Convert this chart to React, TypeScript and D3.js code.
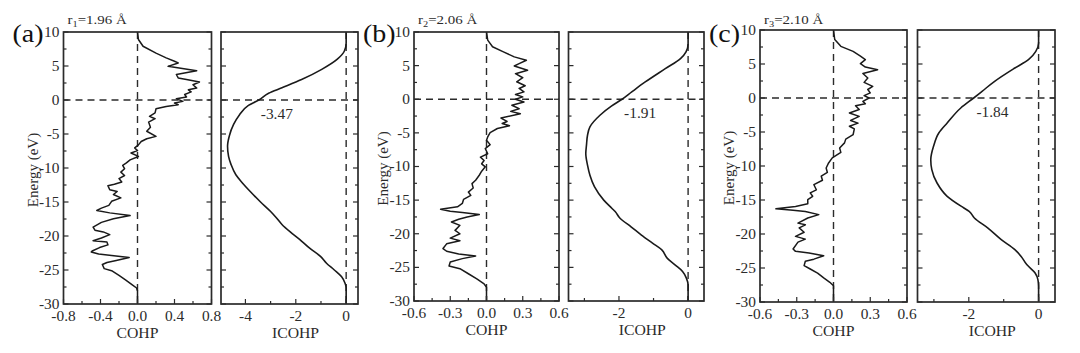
import React from 'react';
import * as d3 from 'd3';

// energy axis (eV), shared by every panel
const energyTicks = [10, 5, 0, -5, -10, -15, -20, -25, -30];
const energyMinor = [7.5, 2.5, -2.5, -7.5, -12.5, -17.5, -22.5, -27.5];

const panelLabels = ['(a)', '(b)', '(c)'];
const bondIndex = ['1', '2', '3'];
const bondLengths = ['1.96', '2.06', '2.10'];
const icohpAtFermi = [-3.47, -1.91, -1.84];

const cohpTicksA = [-0.8, -0.4, 0, 0.4, 0.8];
const cohpMinorA = [-0.6, -0.2, 0.2, 0.6];
const cohpTicksBC = [-0.6, -0.3, 0, 0.3, 0.6];
const cohpMinorBC = [-0.45, -0.15, 0.15, 0.45];
const icohpTicksA = [-4, -2, 0];
const icohpMinorA = [-3, -1];
const icohpTicksBC = [-2, 0];
const icohpMinorBC = [-3, -1];

// [energy, COHP]
const cohpA = [
  [10, 0], [8.9, 0.01], [7.9, 0.06], [6.9, 0.2], [6.2, 0.31], [5.7, 0.4], [5.45, 0.44], [4.95, 0.33],
  [4.3, 0.64], [3.75, 0.42], [3.25, 0.44], [3.0, 0.53], [2.65, 0.67], [2.25, 0.6], [1.75, 0.64],
  [1.5, 0.55], [1.2, 0.58], [0.8, 0.51], [0.45, 0.53], [0.2, 0.42], [-0.2, 0.49], [-0.45, 0.4],
  [-0.7, 0.44], [-0.95, 0.31], [-1.3, 0.2], [-1.9, 0.19], [-2.4, 0.13], [-2.75, 0.19], [-3.25, 0.12],
  [-4.0, 0.14], [-4.6, 0.1], [-5.35, 0.2], [-5.7, 0.1], [-6.1, 0.04], [-6.6, 0.01], [-7.05, -0.03],
  [-7.45, 0], [-7.8, -0.07], [-8.3, 0.01], [-8.8, -0.08], [-9.25, -0.12], [-9.6, -0.16], [-10.1, -0.14],
  [-10.6, -0.18], [-11.1, -0.14], [-11.55, -0.2], [-12.05, -0.17], [-12.4, -0.25], [-12.6, -0.32],
  [-13.2, -0.3], [-13.45, -0.22], [-13.9, -0.26], [-14.4, -0.18], [-14.9, -0.28], [-15.5, -0.31],
  [-15.9, -0.39], [-16.25, -0.44], [-16.6, -0.3], [-17.0, -0.08], [-17.45, -0.26], [-18.0, -0.39],
  [-18.7, -0.48], [-19.15, -0.46], [-19.4, -0.37], [-19.8, -0.3], [-20.3, -0.39], [-20.7, -0.48],
  [-20.9, -0.33], [-21.3, -0.32], [-21.7, -0.41], [-22.2, -0.49], [-22.35, -0.5], [-22.65, -0.42],
  [-22.85, -0.28], [-23.15, -0.09], [-23.6, -0.23], [-23.9, -0.33], [-24.2, -0.38], [-24.8, -0.36],
  [-25.1, -0.28], [-25.8, -0.2], [-26.45, -0.13], [-27.15, -0.06], [-27.65, -0.01], [-28.1, 0], [-30, 0],
];

const cohpB = [
  [10, 0], [8.8, 0.01], [7.8, 0.05], [7.05, 0.14], [6.3, 0.23], [5.8, 0.33], [5.3, 0.27], [4.95, 0.23],
  [4.3, 0.34], [3.8, 0.24], [3.2, 0.3], [2.6, 0.25], [2.0, 0.32], [1.6, 0.27], [1.1, 0.31], [0.7, 0.24],
  [0.35, 0.3], [0, 0.24], [-0.4, 0.31], [-0.9, 0.21], [-1.4, 0.27], [-1.8, 0.2], [-2.15, 0.28],
  [-2.8, 0.12], [-3.3, 0.17], [-3.6, 0.13], [-3.95, 0.19], [-4.35, 0.09], [-4.95, 0.03], [-5.6, 0.01],
  [-6.1, 0], [-6.75, 0.03], [-7.35, -0.01], [-8.1, 0.01], [-8.6, -0.05], [-9.1, -0.02], [-9.6, -0.04],
  [-10.05, -0.01], [-10.7, -0.04], [-11.3, -0.06], [-12.05, -0.09], [-12.55, -0.12], [-13.2, -0.11],
  [-13.8, -0.15], [-14.3, -0.13], [-14.9, -0.19], [-15.5, -0.2], [-16.0, -0.24], [-16.35, -0.38],
  [-16.65, -0.3], [-16.85, -0.2], [-17.15, -0.06], [-17.5, -0.16], [-17.85, -0.23], [-18.25, -0.29],
  [-18.75, -0.22], [-19.5, -0.26], [-20.0, -0.22], [-20.65, -0.3], [-21.05, -0.22], [-21.5, -0.33],
  [-22.2, -0.36], [-22.6, -0.33], [-23.0, -0.23], [-23.3, -0.09], [-23.7, -0.2], [-24.2, -0.3],
  [-24.8, -0.31], [-25.2, -0.22], [-25.95, -0.15], [-26.7, -0.08], [-27.45, -0.02], [-27.95, 0], [-30, 0],
];

const cohpC = [
  [10, 0], [8.6, 0.01], [7.6, 0.06], [6.85, 0.16], [6.15, 0.22], [5.65, 0.26], [5.05, 0.22], [4.55, 0.26],
  [4.15, 0.36], [3.6, 0.24], [2.95, 0.28], [2.3, 0.25], [1.7, 0.32], [1.25, 0.28], [0.75, 0.3],
  [0.35, 0.25], [0, 0.29], [-0.5, 0.24], [-0.85, 0.26], [-1.15, 0.18], [-1.7, 0.21], [-2.2, 0.13],
  [-2.7, 0.21], [-3.3, 0.14], [-3.7, 0.2], [-4.15, 0.13], [-4.55, 0.17], [-5.4, 0.16], [-6.05, 0.1],
  [-6.6, 0.09], [-7.35, 0.05], [-8.0, 0.06], [-8.8, -0.01], [-9.55, -0.04], [-10.3, -0.06],
  [-10.95, -0.05], [-11.5, -0.1], [-12.1, -0.09], [-12.75, -0.16], [-13.5, -0.14], [-13.95, -0.19],
  [-14.45, -0.17], [-14.95, -0.21], [-15.55, -0.21], [-15.95, -0.31], [-16.3, -0.47], [-16.5, -0.33],
  [-16.7, -0.23], [-17.15, -0.12], [-17.65, -0.21], [-18.4, -0.29], [-18.65, -0.23], [-19.1, -0.28],
  [-19.75, -0.24], [-20.35, -0.31], [-20.75, -0.23], [-21.2, -0.29], [-22.2, -0.33], [-22.55, -0.31],
  [-22.8, -0.2], [-23.2, -0.08], [-23.7, -0.16], [-24.0, -0.23], [-24.65, -0.24], [-25.15, -0.19],
  [-25.75, -0.13], [-26.45, -0.08], [-27.1, -0.03], [-27.6, 0], [-30, 0],
];

// [energy, ICOHP]
const icohpA = [
  [10, 0], [8.4, 0], [7.2, -0.07], [6.0, -0.35], [4.5, -0.97], [3.0, -1.77], [1.8, -2.55], [1.0, -3.08],
  [0, -3.47], [-0.8, -3.88], [-2.2, -4.24], [-3.6, -4.47], [-5.3, -4.64], [-6.8, -4.71], [-8.3, -4.67],
  [-9.5, -4.57], [-11.0, -4.38], [-12.2, -4.12], [-13.5, -3.8], [-15.0, -3.4], [-16.4, -3.0],
  [-17.2, -2.8], [-18.3, -2.55], [-19.4, -2.22], [-20.5, -1.85], [-21.8, -1.45], [-23.0, -1.02],
  [-24.0, -0.78], [-25.0, -0.47], [-26.0, -0.18], [-27.0, -0.04], [-27.6, 0], [-30, 0],
];

const icohpB = [
  [10, 0], [8.27, 0], [7.03, -0.06], [6.04, -0.22], [4.55, -0.66], [2.57, -1.24], [1.09, -1.63],
  [0, -1.91], [-0.99, -2.21], [-2.38, -2.55], [-4.11, -2.84], [-5.35, -2.91], [-6.83, -2.94],
  [-8.07, -2.96], [-9.8, -2.91], [-11.3, -2.84], [-13.0, -2.71], [-15.0, -2.44], [-16.24, -2.2],
  [-16.7, -2.11], [-17.7, -1.97], [-18.96, -1.65], [-20.2, -1.35], [-21.4, -1.03], [-22.4, -0.76],
  [-23.66, -0.6], [-24.65, -0.37], [-25.6, -0.16], [-26.6, -0.05], [-27.6, 0], [-30, 0],
];

const icohpC = [
  [10, 0], [8.1, 0], [6.86, -0.08], [5.64, -0.29], [4.41, -0.68], [2.45, -1.26], [0.98, -1.62],
  [0, -1.86], [-1.47, -2.23], [-3.68, -2.62], [-5.15, -2.86], [-7.1, -3.01], [-9.07, -3.09],
  [-10.54, -3.06], [-12.5, -2.91], [-14.46, -2.62], [-16.18, -2.14], [-16.67, -1.99], [-17.65, -1.84],
  [-19.1, -1.46], [-20.83, -1.07], [-22.3, -0.68], [-23.3, -0.5], [-24.5, -0.34], [-25.74, -0.1],
  [-26.7, -0.02], [-27.7, 0], [-30, 0],
];

const SERIF = "'Liberation Serif', 'Times New Roman', serif";
const INK = '#2b2b2b';

const panels = [
  {
    cohp: cohpA, icohp: icohpA, cohpDomain: [-0.8, 0.8], cohpTicks: cohpTicksA, cohpMinor: cohpMinorA,
    icohpDomain: [-4.97, 0.47], icohpTicks: icohpTicksA, icohpMinor: icohpMinorA,
    box: { c0: 63.5, c1: 211.5, i0: 221, i1: 358, y0: 32, y1: 304 },
  },
  {
    cohp: cohpB, icohp: icohpB, cohpDomain: [-0.6, 0.6], cohpTicks: cohpTicksBC, cohpMinor: cohpMinorBC,
    icohpDomain: [-3.46, 0.46], icohpTicks: icohpTicksBC, icohpMinor: icohpMinorBC,
    box: { c0: 414, c1: 559, i0: 568.5, i1: 704, y0: 32, y1: 301 },
  },
  {
    cohp: cohpC, icohp: icohpC, cohpDomain: [-0.6, 0.6], cohpTicks: cohpTicksBC, cohpMinor: cohpMinorBC,
    icohpDomain: [-3.47, 0.47], icohpTicks: icohpTicksBC, icohpMinor: icohpMinorBC,
    box: { c0: 760, c1: 907, i0: 917.5, i1: 1055, y0: 30, y1: 302 },
  },
];

const fmtCohp = (v) => (v === 0 ? '0.0' : d3.format('.1f')(v).replace('−', '-'));
const fmtInt = (v) => String(v);

// text with a slight horizontal stretch, the source figure is a little wide
function T({ x, y, size, sx = 1.1, anchor = 'start', dy, rotate = 0, fill = INK, children }) {
  return (
    <text
      transform={`translate(${x},${y}) rotate(${rotate}) scale(${sx},1)`}
      dy={dy} textAnchor={anchor} fontSize={size} fontFamily={SERIF} fill={fill}
    >
      {children}
    </text>
  );
}

function Frame({ x0, x1, y, xScale, ticks, minor, fmt, title, titleShift, showY }) {
  const top = y.range()[1];
  const bottom = y.range()[0];
  return (
    <g>
      {energyTicks.map((t) => (
        <g key={'yt' + t}>
          <line x1={x0} x2={x0 + 5} y1={y(t)} y2={y(t)} stroke={INK} strokeWidth={1.2} />
          <line x1={x1} x2={x1 - 5} y1={y(t)} y2={y(t)} stroke={INK} strokeWidth={1.2} />
          {showY && <T x={x0 - 4} y={y(t)} dy="0.35em" anchor="end" size={14}>{t}</T>}
        </g>
      ))}
      {energyMinor.map((t) => (
        <g key={'ym' + t}>
          <line x1={x0} x2={x0 + 3} y1={y(t)} y2={y(t)} stroke={INK} strokeWidth={1.2} />
          <line x1={x1} x2={x1 - 3} y1={y(t)} y2={y(t)} stroke={INK} strokeWidth={1.2} />
        </g>
      ))}
      {ticks.map((t) => (
        <g key={'xt' + t}>
          <line x1={xScale(t)} x2={xScale(t)} y1={bottom} y2={bottom - 5} stroke={INK} strokeWidth={1.2} />
          <T x={xScale(t)} y={bottom + 17} anchor="middle" size={14}>{fmt(t)}</T>
        </g>
      ))}
      {minor.map((t) => (
        <line key={'xm' + t} x1={xScale(t)} x2={xScale(t)} y1={bottom} y2={bottom - 3} stroke={INK} strokeWidth={1.2} />
      ))}
      <rect x={x0} y={top} width={x1 - x0} height={bottom - top} fill="none" stroke={INK} strokeWidth={1.7} />
      <T x={(x0 + x1) / 2 + titleShift} y={bottom + 34} anchor="middle" size={15} sx={1.05}>{title}</T>
    </g>
  );
}

function Panel({ p, i }) {
  const { c0, c1, i0, i1, y0, y1 } = p.box;
  const y = d3.scaleLinear().domain([-30, 10]).range([y1, y0]);
  const xc = d3.scaleLinear().domain(p.cohpDomain).range([c0, c1]);
  const xi = d3.scaleLinear().domain(p.icohpDomain).range([i0, i1]);

  const cohpLine = d3.line().x((d) => xc(d[1])).y((d) => y(d[0]));
  const icohpLine = d3.line().x((d) => xi(d[1])).y((d) => y(d[0])).curve(d3.curveMonotoneY);
  const dash = '7,5';

  return (
    <g>
      <T x={c0 - 51} y={42} size={25} sx={1.12} fill="#111">{panelLabels[i]}</T>
      <text transform={`translate(${c0 + 4},24) scale(1.15,1)`} fontSize={13} fontFamily={SERIF} fill={INK}>
        r<tspan fontSize={9} dy={3}>{bondIndex[i]}</tspan>
        <tspan dy={-3}>{'=' + bondLengths[i] + ' Å'}</tspan>
      </text>
      <T x={c0 - 26} y={(y0 + y1) / 2 + 2} rotate={-90} anchor="middle" size={15} sx={1.0}>
        Energy (eV)
      </T>

      {/* reference lines */}
      <line x1={c0} x2={c1} y1={y(0)} y2={y(0)} stroke={INK} strokeWidth={1.4} strokeDasharray={dash} />
      <line x1={xc(0)} x2={xc(0)} y1={y0} y2={y1} stroke={INK} strokeWidth={1.4} strokeDasharray={dash} />
      <line x1={i0} x2={i1} y1={y(0)} y2={y(0)} stroke={INK} strokeWidth={1.4} strokeDasharray={dash} />
      <line x1={xi(0)} x2={xi(0)} y1={y0} y2={y1} stroke={INK} strokeWidth={1.4} strokeDasharray={dash} />

      <path d={cohpLine(p.cohp)} fill="none" stroke="#1a1a1a" strokeWidth={1.5} strokeLinejoin="round" />
      <path d={icohpLine(p.icohp)} fill="none" stroke="#1a1a1a" strokeWidth={1.6} />

      <T x={xi(icohpAtFermi[i]) + 2} y={y(0) + 19} size={14}>{icohpAtFermi[i].toFixed(2)}</T>

      <Frame x0={c0} x1={c1} y={y} xScale={xc} ticks={p.cohpTicks} minor={p.cohpMinor} fmt={fmtCohp}
        title="COHP" titleShift={0} showY />
      <Frame x0={i0} x1={i1} y={y} xScale={xi} ticks={p.icohpTicks} minor={p.icohpMinor} fmt={fmtInt}
        title="ICOHP" titleShift={6} showY={false} />
    </g>
  );
}

export default function App() {
  return (
    <svg width={1080} height={353} style={{ position: 'absolute', left: 0, top: 0 }}>
      <rect width={1080} height={353} fill="#fff" />
      {panels.map((p, i) => (
        <Panel key={i} p={p} i={i} />
      ))}
    </svg>
  );
}
